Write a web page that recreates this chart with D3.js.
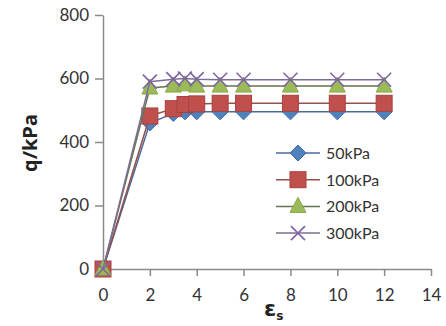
<!DOCTYPE html>
<html>
<head>
<meta charset="utf-8">
<script src="https://cdn.jsdelivr.net/npm/d3@7"></script>
<style>
  body { margin: 0; background: #fff; }
  svg { font-family: Lato, "Open Sans", sans-serif; }
</style>
</head>
<body>
<script>
// strain values (x) shared by every series
var strain = [0, 2, 3, 3.5, 4, 5, 6, 8, 10, 12]

var q50 = [0, 460, 490, 495, 495, 495, 495, 495, 495, 495]
var q100 = [0, 482, 505, 518, 520, 522, 522, 522, 522, 522]
var q200 = [0, 570, 576, 580, 576, 576, 576, 576, 576, 576]
var q300 = [0, 590, 598, 600, 598, 596, 596, 596, 596, 596]

var seriesNames = ['50kPa', '100kPa', '200kPa', '300kPa']
var xTicks = [0, 2, 4, 6, 8, 10, 12, 14]
var yTicks = [0, 200, 400, 600, 800]

var series = [
  { name: seriesNames[0], values: q50, marker: 'diamond', fill: '#4f81bd', stroke: '#3c6ca8', line: '#4a6b9a' },
  { name: seriesNames[1], values: q100, marker: 'square', fill: '#c0504d', stroke: '#a8403e', line: '#94504e' },
  { name: seriesNames[2], values: q200, marker: 'triangle', fill: '#9bbb59', stroke: '#89a94a', line: '#66734f' },
  { name: seriesNames[3], values: q300, marker: 'cross', fill: 'none', stroke: '#8064a2', line: '#7a6e96' }
]

var width = 446, height = 326
var margin = { top: 15, right: 15, bottom: 57, left: 103 }

var svg = d3.select('body')
  .append('svg')
  .attr('width', width)
  .attr('height', height)

var x = d3.scaleLinear().domain([0, 14]).range([margin.left, width - margin.right])
var y = d3.scaleLinear().domain([0, 800]).range([height - margin.bottom, margin.top])

// axes
var xAxis = svg.append('g')
  .attr('transform', 'translate(0,' + y(0) + ')')
  .call(d3.axisBottom(x).tickValues(xTicks).tickSize(7).tickSizeOuter(0).tickPadding(13))

var yAxis = svg.append('g')
  .attr('transform', 'translate(' + x(0) + ',0)')
  .call(d3.axisLeft(y).tickValues(yTicks).tickSize(8).tickSizeOuter(0).tickPadding(6))

;[xAxis, yAxis].forEach(function(a) {
  a.select('.domain').attr('stroke', '#8a8a8a').attr('stroke-width', 1.5)
  a.selectAll('.tick line').attr('stroke', '#8a8a8a').attr('stroke-width', 1.5)
  a.selectAll('.tick text')
    .attr('fill', '#333')
    .style('font-size', '17px')
    .style('font-family', 'Lato, sans-serif')
})

// axis titles
svg.append('text')
  .attr('transform', 'translate(37,' + (y(400) + 1) + ') rotate(-90)')
  .attr('text-anchor', 'middle')
  .style('font-size', '20px')
  .style('font-weight', 'bold')
  .style('font-family', '"Open Sans", sans-serif')
  .attr('fill', '#222')
  .text('q/kPa')

var xt = svg.append('text')
  .attr('x', 264)
  .attr('y', 316)
  .style('font-size', '22px')
  .style('font-weight', 'bold')
  .style('font-family', '"DejaVu Sans", sans-serif')
  .attr('fill', '#222')
xt.append('tspan').text('ε')
xt.append('tspan').attr('dy', 4).style('font-size', '12px').text('s')

function drawMarker(g, m, cx, cy) {
  if (m.marker === 'diamond') {
    g.append('path')
      .attr('d', 'M' + cx + ',' + (cy - 8) + 'L' + (cx + 8) + ',' + cy + 'L' + cx + ',' + (cy + 8) + 'L' + (cx - 8) + ',' + cy + 'Z')
      .attr('fill', m.fill).attr('stroke', m.stroke)
  } else if (m.marker === 'square') {
    g.append('rect')
      .attr('x', cx - 8).attr('y', cy - 8).attr('width', 16).attr('height', 16)
      .attr('fill', m.fill).attr('stroke', m.stroke)
  } else if (m.marker === 'triangle') {
    g.append('path')
      .attr('d', 'M' + cx + ',' + (cy - 9) + 'L' + (cx + 8) + ',' + (cy + 6) + 'L' + (cx - 8) + ',' + (cy + 6) + 'Z')
      .attr('fill', m.fill).attr('stroke', m.stroke)
  } else {
    g.append('path')
      .attr('d', 'M' + (cx - 7) + ',' + (cy - 7) + 'L' + (cx + 7) + ',' + (cy + 7) + 'M' + (cx + 7) + ',' + (cy - 7) + 'L' + (cx - 7) + ',' + (cy + 7))
      .attr('fill', 'none').attr('stroke', m.stroke).attr('stroke-width', 1.6)
  }
}

var line = d3.line()
  .x(function(d, i) { return x(strain[i]) })
  .y(function(d) { return y(d) })

series.forEach(function(s) {
  var g = svg.append('g').attr('class', 'series')
  g.append('path')
    .datum(s.values)
    .attr('d', line)
    .attr('fill', 'none')
    .attr('stroke', s.line)
    .attr('stroke-width', 1.5)
  s.values.forEach(function(v, i) {
    drawMarker(g, s, x(strain[i]), y(v))
  })
})

// legend
var legend = svg.append('g').attr('class', 'legend')
series.forEach(function(s, i) {
  var ly = 153 + i * 26.7
  var lg = legend.append('g')
  lg.append('line')
    .attr('x1', 276).attr('x2', 320).attr('y1', ly).attr('y2', ly)
    .attr('stroke', s.line).attr('stroke-width', 1.5)
  drawMarker(lg, s, 298, ly)
  lg.append('text')
    .attr('x', 326).attr('y', ly + 6)
    .style('font-size', '16px')
    .attr('fill', '#333')
    .text(s.name)
})
</script>
</body>
</html>
